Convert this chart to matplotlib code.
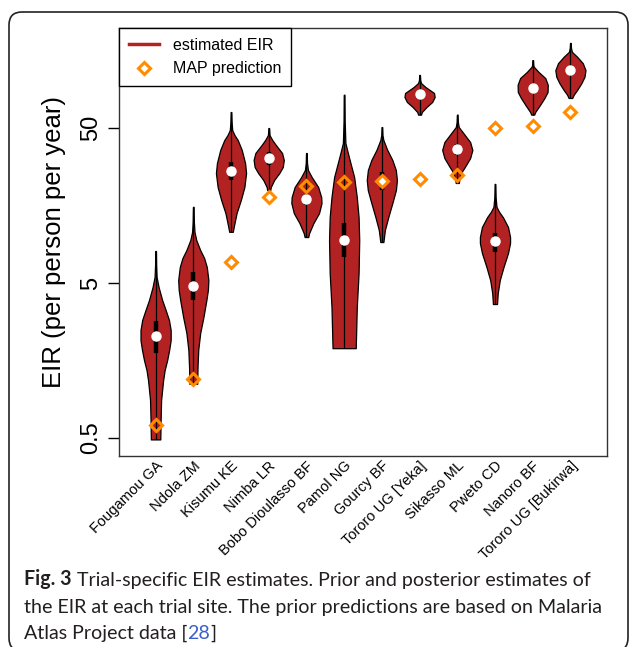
"""Trial-specific EIR estimates: posterior violins against MAP prior predictions."""

import matplotlib

matplotlib.use("Agg")

import matplotlib.pyplot as plt
from matplotlib.lines import Line2D
from matplotlib.patches import FancyBboxPatch
from matplotlib.ticker import NullLocator
from matplotlib.transforms import IdentityTransform

FILL = "#b22222"
ORANGE = "#ff8c00"
LINK = "#3a5fcd"
CAPTION_FONT = "Lato"

sites = [
    "Fougamou GA", "Ndola ZM", "Kisumu KE", "Nimba LR", "Bobo Dioulasso BF",
    "Pamol NG", "Gourcy BF", "Tororo UG [Yeka]", "Sikasso ML", "Pweto CD",
    "Nanoro BF", "Tororo UG [Bukirwa]",
]

# posterior summaries (EIR, per person per year)
median_eir = [2.28, 4.78, 26.4, 32.0, 17.4, 9.47, 22.7, 82.9, 36.6, 9.33, 90.6, 118]
q1_eir = [1.77, 3.89, 23.1, 28.9, 15.9, 7.36, 19.9, 77.5, 33.5, 7.92, 84.1, 111]
q3_eir = [2.84, 5.89, 30.2, 35.0, 18.5, 12.2, 26.0, 88.0, 39.4, 10.5, 96.1, 126]

# prior prediction from Malaria Atlas Project
map_eir = [0.61, 1.20, 6.83, 17.9, 21.1, 22.4, 22.6, 23.4, 24.9, 50.0, 51.5, 63.4]

# violin outlines: EIR level and relative half-width
profile_eir = [
    [8.05, 6.53, 5.47, 4.71, 3.89, 3.35, 2.89, 2.49, 2.14, 1.85, 1.59, 1.37, 1.18, 1.02, 0.88, 0.65, 0.49],
    [15.5, 12.4, 10.7, 9.47, 8.16, 7.25, 6.34, 5.23, 4.51, 3.89, 3.02, 2.38, 1.85, 1.44, 1.12],
    [63.4, 54.7, 48.5, 45.0, 41.8, 36.1, 29.7, 25.6, 20.8, 17.1, 14.1, 11.5, 10.7],
    [50.0, 45.0, 41.8, 38.8, 34.5, 31.1, 28.0, 25.6, 23.1, 20.8, 19.9],
    [34.5, 29.7, 26.8, 24.1, 20.8, 17.9, 16.4, 14.1, 12.2, 10.5, 9.90],
    [82.0, 56.0, 40.0, 36.1, 32.5, 24.1, 17.9, 13.3, 9.47, 5.80, 3.50, 1.90],
    [50.7, 45.0, 41.8, 36.1, 31.1, 26.8, 23.1, 19.9, 16.4, 13.3, 11.0, 9.19],
    [110, 102, 97.5, 91.9, 84.1, 79.2, 73.6, 68.3, 63.4, 61.0],
    [61.0, 54.7, 50.7, 46.4, 40.6, 36.1, 32.0, 28.0, 25.6, 23.1, 22.1],
    [21.8, 17.9, 15.5, 14.4, 13.3, 11.5, 9.90, 9.06, 7.81, 6.34, 5.23, 4.31, 3.66],
    [137, 127, 124, 115, 105, 95.0, 85.4, 78.1, 70.0, 63.4, 61.0],
    [177, 164, 155, 144, 131, 118, 107, 97.5, 88.0, 82.0, 78.1],
]
profile_dens = [
    [0.3, 0.5, 1.0, 3.0, 6.5, 10.0, 13.3, 15.0, 15.0, 13.5, 11.5, 9.0, 7.5, 6.5, 5.5, 5.0, 4.7],
    [0.3, 0.6, 1.2, 3.0, 7.0, 11.0, 13.7, 15.3, 14.8, 13.3, 10.3, 7.0, 5.0, 4.3, 4.0],
    [0.3, 0.6, 1.2, 3.5, 6.7, 10.7, 14.0, 15.0, 13.3, 9.7, 5.5, 2.7, 1.8],
    [0.3, 0.8, 3.5, 7.0, 13.0, 14.7, 13.7, 10.3, 5.3, 2.0, 1.5],
    [0.3, 0.6, 1.5, 5.3, 11.7, 14.7, 15.0, 12.5, 7.0, 2.7, 1.8],
    [0.3, 0.5, 1.2, 2.8, 4.5, 9.5, 12.0, 13.7, 14.3, 13.7, 12.0, 11.0],
    [0.3, 0.6, 1.5, 5.3, 10.3, 13.7, 14.8, 13.8, 10.3, 6.3, 3.0, 1.5],
    [0.3, 0.6, 1.5, 6.0, 14.7, 15.3, 12.8, 7.0, 2.3, 1.5],
    [0.3, 0.6, 1.5, 6.0, 12.8, 15.0, 12.8, 7.5, 3.7, 2.0, 1.5],
    [0.3, 0.6, 1.5, 4.0, 7.7, 12.7, 14.7, 14.7, 12.7, 8.3, 4.7, 2.7, 2.0],
    [0.3, 0.6, 1.2, 5.8, 12.5, 15.0, 14.8, 11.7, 7.0, 2.5, 1.5],
    [0.3, 0.6, 1.5, 6.7, 12.3, 15.0, 14.0, 11.0, 6.7, 3.3, 1.8],
]

ytick_values = [0.5, 5, 50]
ytick_labels = ["0.5", "5", "50"]


def violin_stats():
    """Build the dicts that Axes.violin expects from the traced outlines."""
    stats = []
    for eir, dens, med in zip(profile_eir, profile_dens, median_eir):
        stats.append({
            "coords": eir, "vals": dens, "mean": med, "median": med,
            "min": min(eir), "max": max(eir),
        })
    return stats


def add_caption(fig, ax):
    size = 14.1
    kw = dict(family=CAPTION_FONT, fontsize=size, color="#231f20", va="bottom")
    head = fig.text(24 / 629, 1 - 589 / 647, "Fig. 3", fontweight="bold", **kw)
    ax.annotate(" Trial-specific EIR estimates. Prior and posterior estimates of",
                xy=(1, 0), xycoords=head, **kw)
    fig.text(24 / 629, 1 - 616 / 647,
             "the EIR at each trial site. The prior predictions are based on Malaria", **kw)
    tail = fig.text(24 / 629, 1 - 642 / 647, "Atlas Project data [", **kw)
    ref = ax.annotate("28", xy=(1, 0), xycoords=tail, **{**kw, "color": LINK})
    ax.annotate("]", xy=(1, 0), xycoords=ref, **kw)


def main():
    plt.rcParams["font.family"] = ["Liberation Sans", "DejaVu Sans"]
    fig = plt.figure(figsize=(6.29, 6.47), dpi=100)

    border = FancyBboxPatch((9, -4), 619, 639, boxstyle="round,pad=0,rounding_size=13",
                            transform=IdentityTransform(), facecolor="none",
                            edgecolor="#222222", linewidth=1.2)
    fig.patches.append(border)

    ax = fig.add_axes([0.1892, 0.2952, 0.7758, 0.6615])
    ax.set_yscale("log")
    positions = list(range(1, len(sites) + 1))

    parts = ax.violin(violin_stats(), positions=positions, widths=0.8, showextrema=False)
    for body in parts["bodies"]:
        body.set_facecolor(FILL)
        body.set_edgecolor("black")
        body.set_linewidth(0.9)
        body.set_alpha(1)

    lo = [min(e) for e in profile_eir]
    hi = [max(e) for e in profile_eir]
    ax.vlines(positions, lo, hi, color="black", lw=0.9, zorder=3)
    ax.vlines(positions, q1_eir, q3_eir, color="black", lw=3.2, zorder=3)
    ax.plot(positions, median_eir, "o", color="white", ms=6.5, zorder=4)
    ax.plot(positions, map_eir, "D", mfc="none", mec=ORANGE, mew=2.2, ms=6.5, zorder=5)

    ax.set_xlim(0.03, 12.97)
    ax.set_ylim(0.383, 220.8)
    ax.set_yticks(ytick_values)
    ax.set_yticklabels(ytick_labels, rotation=90, va="center")
    ax.yaxis.set_minor_locator(NullLocator())
    ax.tick_params(axis="y", length=8, width=1, labelsize=17, pad=4)
    ax.set_xticks(positions)
    ax.set_xticklabels(sites, rotation=45, ha="right", rotation_mode="anchor", fontsize=10.5)
    ax.tick_params(axis="x", length=0, pad=2)
    ax.set_ylabel("EIR (per person per year)", fontsize=18.5, labelpad=10)
    for spine in ax.spines.values():
        spine.set_color("#333333")
        spine.set_linewidth(1)

    handles = [
        Line2D([], [], color=FILL, lw=2.5),
        Line2D([], [], marker="D", ls="none", mfc="none", mec=ORANGE, mew=2.2, ms=6.5),
    ]
    leg = ax.legend(handles, ["estimated EIR", "MAP prediction"], loc="upper left",
                    borderaxespad=0, fancybox=False, framealpha=1, edgecolor="black",
                    fontsize=11.5, handlelength=1.9, borderpad=0.6, labelspacing=0.55,
                    handletextpad=0.9)
    leg.get_frame().set_linewidth(1)

    add_caption(fig, ax)

    fig.savefig("out.png", dpi=100)
    plt.close(fig)


if __name__ == "__main__":
    main()
